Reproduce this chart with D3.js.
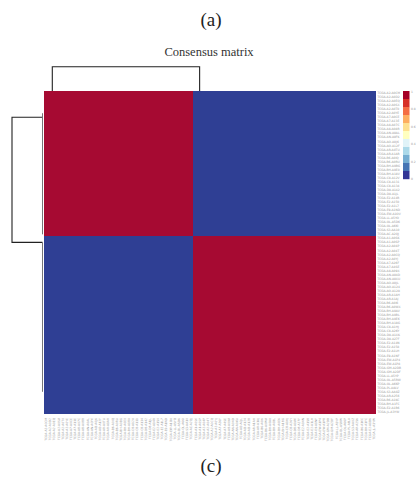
<!DOCTYPE html>
<html>
<head>
<meta charset="utf-8">
<script src="https://cdn.jsdelivr.net/npm/d3@7"></script>
<style>
  body { margin: 0; background: #fff; }
  svg { display: block; }
</style>
</head>
<body>
<svg id="chart"></svg>
<script>
// sample barcodes in dendrogram order (same order for rows and columns)
var samples = [
  "TCGA-A2-A0CM","TCGA-A2-A0D2","TCGA-A2-A0EQ","TCGA-A2-A0SX","TCGA-A2-A0T0","TCGA-A2-A0YE",
  "TCGA-A7-A0CE","TCGA-A7-A13E","TCGA-A8-A07C","TCGA-A8-A08R","TCGA-AN-A0AL","TCGA-AN-A0FK",
  "TCGA-AO-A0J6","TCGA-AO-A12F","TCGA-AR-A0TU","TCGA-AR-A1AR","TCGA-B6-A0IQ","TCGA-B6-A0RU",
  "TCGA-BH-A0BG","TCGA-BH-A0E0","TCGA-BH-A18V","TCGA-C8-A12V","TCGA-C8-A131","TCGA-C8-A134",
  "TCGA-D8-A142","TCGA-D8-A1JL","TCGA-E2-A14R","TCGA-E2-A150","TCGA-E2-A1L7","TCGA-E9-A1ND",
  "TCGA-EW-A1OV","TCGA-LL-A5YO","TCGA-OL-A5D6","TCGA-OL-A66I","TCGA-S3-AA10","TCGA-AC-A2QJ",
  "TCGA-A1-A0SK","TCGA-A1-A0SP","TCGA-A2-A04P","TCGA-A2-A04T","TCGA-A2-A0CQ","TCGA-A2-A0YJ",
  "TCGA-A7-A26F","TCGA-A7-A4SE","TCGA-A8-A09X","TCGA-AN-A04D","TCGA-AN-A0XU","TCGA-AO-A0JL",
  "TCGA-AO-A124","TCGA-AO-A128","TCGA-AR-A1AH","TCGA-AR-A1AJ","TCGA-B6-A0I6","TCGA-B6-A0WX",
  "TCGA-BH-A0AV","TCGA-BH-A0BL","TCGA-BH-A0E6","TCGA-BH-A18G","TCGA-C8-A1HJ","TCGA-C8-A26Y",
  "TCGA-D8-A1XK","TCGA-D8-A27F","TCGA-E2-A14N","TCGA-E2-A158","TCGA-E2-A1LH","TCGA-E9-A1NF",
  "TCGA-EW-A1P4","TCGA-EW-A1P8","TCGA-GM-A2DB","TCGA-GM-A2DF","TCGA-LL-A5YP","TCGA-OL-A5RW",
  "TCGA-OL-A66P","TCGA-PL-A8LV","TCGA-S3-AA0Z","TCGA-AR-A256","TCGA-B6-A1KC","TCGA-BH-A1FC",
  "TCGA-E2-A1B6","TCGA-JL-A3YW"
]
// consensus cluster of each sample (k = 2)
var clusters = [
  1,1,1,1,1,1,1,1,1,1,1,1,1,1,1,1,1,1,1,1,1,1,1,1,1,1,1,1,1,1,1,1,1,1,1,1,
  2,2,2,2,2,2,2,2,2,2,2,2,2,2,2,2,2,2,2,2,2,2,2,2,2,2,2,2,2,2,2,2,2,2,2,2,2,2,2,2,2,2,2,2
]
// consensus value: same cluster / different cluster
var consensusWithin = 1
var consensusBetween = 0

// dendrograms: leaf index where each branch joins the root, leaf span of each flat subtree
var rowBranchLeaf = [6, 37]
var rowSubtreeSpan = [[5, 35], [37, 74]]
var colBranchLeaf = [1.5, 37]
var colSubtreeSpan = [[0, 35], [36, 79]]

var legendTicks = [0, 0.2, 0.4, 0.6, 0.8, 1]
var legendColors = ["#a50026","#d73027","#f46d43","#fdae61","#fee090","#ffffbf",
                    "#e0f3f8","#abd9e9","#74add1","#4575b4","#313695"]

var width = 417, height = 491
var heat = {left: 44, top: 91, right: 376, bottom: 414}

var svg = d3.select("#chart")
  .attr("width", width)
  .attr("height", height)
  .attr("viewBox", [0, 0, width, height])

var idx = d3.range(samples.length)

var x = d3.scaleBand().domain(idx).range([heat.left, heat.right])
var y = d3.scaleBand().domain(idx).range([heat.top, heat.bottom])

var color = d3.scaleLinear()
  .domain([0, 1])
  .range(["#2f3f94", "#a60a32"])

var cells = []
idx.forEach(function (r) {
  idx.forEach(function (c) {
    cells.push({r: r, c: c, v: clusters[r] === clusters[c] ? consensusWithin : consensusBetween})
  })
})

var dend = svg.append("g")
  .attr("fill", "none")
  .attr("stroke", "#222")
  .attr("stroke-width", 1.1)

// column dendrogram, leaves tucked under the heatmap top
var colH = d3.scaleLinear().domain([0, 1]).range([heat.top + 1.5, 66.7])
var colCenter = function (i) { return heat.left + (i + 0.5) * x.bandwidth() }
dend.append("path")
  .attr("d", d3.line()([
    [colCenter(colBranchLeaf[0]), colH(0)],
    [colCenter(colBranchLeaf[0]), colH(1)],
    [colCenter(colBranchLeaf[1]), colH(1)],
    [colCenter(colBranchLeaf[1]), colH(0)]
  ]))
colSubtreeSpan.forEach(function (s) {
  dend.append("line")
    .attr("x1", colCenter(s[0])).attr("x2", colCenter(s[1]))
    .attr("y1", colH(0)).attr("y2", colH(0))
})

// row dendrogram
var rowH = d3.scaleLinear().domain([0, 1]).range([42.5, 12])
var rowCenter = function (i) { return heat.top + (i + 0.5) * y.bandwidth() }
dend.append("path")
  .attr("d", d3.line()([
    [rowH(0), rowCenter(rowBranchLeaf[0])],
    [rowH(1), rowCenter(rowBranchLeaf[0])],
    [rowH(1), rowCenter(rowBranchLeaf[1])],
    [rowH(0), rowCenter(rowBranchLeaf[1])]
  ]))
rowSubtreeSpan.forEach(function (s) {
  dend.append("line")
    .attr("stroke", "#666")
    .attr("stroke-width", 0.9)
    .attr("x1", rowH(0)).attr("x2", rowH(0))
    .attr("y1", rowCenter(s[0])).attr("y2", rowCenter(s[1]))
})

// heatmap cells
svg.append("g")
  .attr("shape-rendering", "crispEdges")
  .selectAll("rect")
  .data(cells)
  .join("rect")
  .attr("x", d => x(d.c))
  .attr("y", d => y(d.r))
  .attr("width", x.bandwidth() + 0.3)
  .attr("height", y.bandwidth() + 0.3)
  .attr("fill", d => color(d.v))

var labelStyle = g => g
  .attr("font-family", "DejaVu Sans, sans-serif")
  .attr("font-size", 3)
  .attr("fill", "#999")

// row labels
svg.append("g")
  .call(labelStyle)
  .selectAll("text")
  .data(idx)
  .join("text")
  .attr("x", heat.right + 1.5)
  .attr("y", d => y(d) + y.bandwidth() / 2)
  .attr("dy", "0.35em")
  .text(d => samples[d])

// column labels
svg.append("g")
  .call(labelStyle)
  .selectAll("text")
  .data(idx)
  .join("text")
  .attr("transform", d => `translate(${x(d) + x.bandwidth() / 2},${heat.bottom + 4}) rotate(-90)`)
  .attr("dy", "0.35em")
  .attr("text-anchor", "end")
  .text(d => samples[d])

// legend colour key
var ly = d3.scaleBand()
  .domain(d3.range(legendColors.length))
  .range([heat.top, 179])
var legend = svg.append("g")
legend.selectAll("rect")
  .data(legendColors)
  .join("rect")
  .attr("x", 403)
  .attr("y", (d, i) => ly(i))
  .attr("width", 6.5)
  .attr("height", ly.bandwidth() + 0.2)
  .attr("fill", d => d)

var lv = d3.scaleLinear().domain([0, 1]).range([179, 91.5])
legend.append("g")
  .call(labelStyle)
  .selectAll("text")
  .data(legendTicks)
  .join("text")
  .attr("x", 411)
  .attr("y", d => lv(d))
  .attr("dy", "0.35em")
  .text(d => d)

// titles
svg.append("text")
  .attr("x", 211)
  .attr("y", 26)
  .attr("text-anchor", "middle")
  .attr("font-family", "Liberation Serif, serif")
  .attr("font-size", 19)
  .attr("fill", "#222")
  .text("(a)")

svg.append("text")
  .attr("x", 209)
  .attr("y", 56)
  .attr("text-anchor", "middle")
  .attr("font-family", "Liberation Serif, serif")
  .attr("font-size", 12.5)
  .attr("fill", "#333")
  .text("Consensus matrix")

svg.append("text")
  .attr("x", 211)
  .attr("y", 472)
  .attr("text-anchor", "middle")
  .attr("font-family", "Liberation Serif, serif")
  .attr("font-size", 19)
  .attr("fill", "#222")
  .text("(c)")
</script>
</body>
</html>
